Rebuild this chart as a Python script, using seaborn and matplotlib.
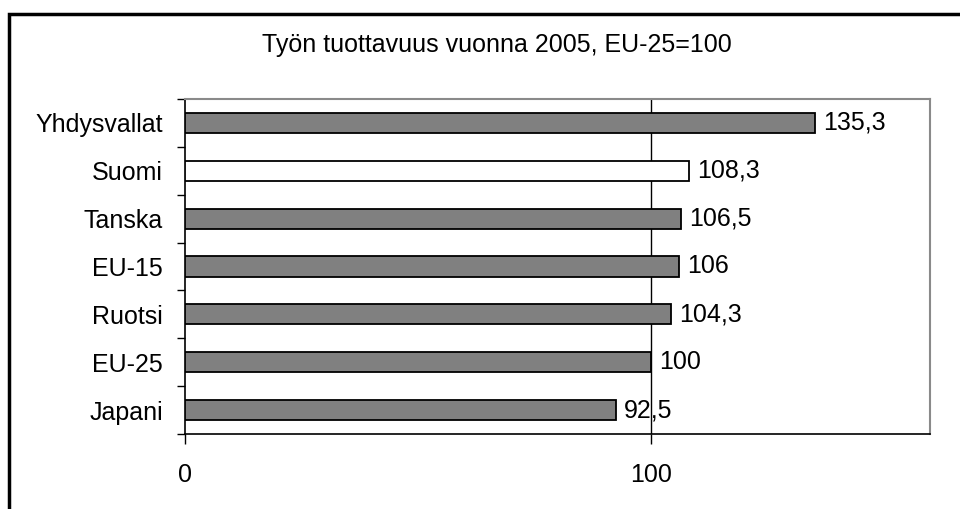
import matplotlib
matplotlib.use("Agg")
import matplotlib.pyplot as plt
import seaborn as sns
import pandas as pd
from matplotlib.patches import Rectangle

categories = ["Yhdysvallat", "Suomi", "Tanska", "EU-15", "Ruotsi", "EU-25", "Japani"]
values = [135.3, 108.3, 106.5, 106.0, 104.3, 100.0, 92.5]
bar_colors = ["#808080", "#ffffff", "#808080", "#808080", "#808080", "#808080", "#808080"]
x_ticks = [0, 100]
title = "Työn tuottavuus vuonna 2005, EU-25=100"

sns.set_theme(style="white")
plt.rcParams["font.family"] = ["Liberation Sans", "DejaVu Sans"]
plt.rcParams["text.color"] = "black"
plt.rcParams["xtick.color"] = "black"
plt.rcParams["ytick.color"] = "black"
plt.rcParams["axes.labelcolor"] = "black"

FS = 18

df = pd.DataFrame({"maa": categories, "arvo": values})

fig = plt.figure(figsize=(9.6, 5.09), dpi=100)
ax = fig.add_axes([185 / 960, 1 - 434 / 509, (930 - 185) / 960, (434 - 99) / 509])

sns.barplot(data=df, x="arvo", y="maa", hue="maa", palette=dict(zip(categories, bar_colors)),
            orient="h", width=0.42, edgecolor="black", linewidth=1.3, legend=False, ax=ax,
            zorder=3)

ax.set_xlim(0, 160)
ax.set_ylim(len(categories) - 0.5, -0.5)
ax.set_xlabel("")
ax.set_ylabel("")

def fmt(v):
    s = f"{v:.1f}".replace(".", ",")
    return s[:-2] if s.endswith(",0") else s

for cont in ax.containers:
    labs = [fmt(b.get_width()) for b in cont]
    txts = ax.bar_label(cont, labels=labs, padding=6, fontsize=FS, color="black")
    for t in txts:
        t.set_y(t.get_position()[1] + 0.03)

ax.set_xticks(x_ticks)
ax.set_xticklabels([str(t) for t in x_ticks])
ax.tick_params(axis="x", direction="out", length=7, width=1, color="black",
               labelsize=FS, labelcolor="black", pad=14, bottom=True)
ax.tick_params(axis="y", which="major", length=0, labelsize=FS, labelcolor="black", pad=16)
ax.set_yticks([i - 0.5 for i in range(len(categories) + 1)], minor=True)
ax.tick_params(axis="y", which="minor", direction="out", length=6, width=1, color="black", left=True)

ax.grid(False)
ax.axvline(100, color="black", linewidth=1, zorder=1)

for side in ["left", "bottom"]:
    ax.spines[side].set_color("black")
    ax.spines[side].set_linewidth(1.2)
for side in ["top", "right"]:
    ax.spines[side].set_color("#8a8a8a")
    ax.spines[side].set_linewidth(1.5)

fig.text(497 / 960, 1 - 45 / 509, title, ha="center", va="center", fontsize=FS, color="black")

fig.patches.append(Rectangle((9 / 960, -0.1), 1.2, 1 - 14 / 509 + 0.1,
                             transform=fig.transFigure, fill=False,
                             edgecolor="black", linewidth=2.5))

fig.savefig("out.png", dpi=100)
